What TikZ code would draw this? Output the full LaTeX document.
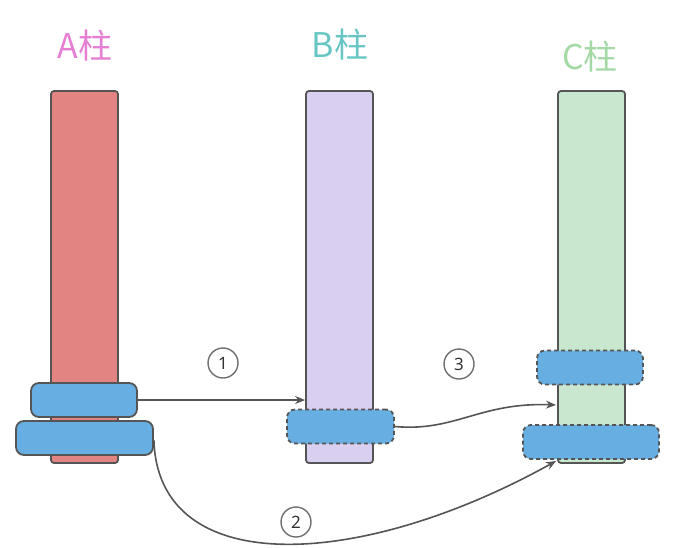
\documentclass[tikz,border=0pt]{standalone}
\usepackage{fontspec}
\newfontfamily\cjk{Noto Sans CJK SC}
\setmainfont{Noto Sans}
\usetikzlibrary{arrows.meta}
\definecolor{edge}{HTML}{555555}
\definecolor{pa}{HTML}{E28482}
\definecolor{pb}{HTML}{D9CFF1}
\definecolor{pc}{HTML}{C9E6CF}
\definecolor{disk}{HTML}{67AEE3}
\definecolor{la}{HTML}{E67FD4}
\definecolor{lb}{HTML}{67C6C3}
\definecolor{lc}{HTML}{A4D8A5}
\tikzset{
  pillar/.style={draw=edge, line width=1.8pt, rounded corners=3pt, minimum width=67pt, minimum height=372pt, inner sep=0pt},
  diskbox/.style={draw=edge, fill=disk, line width=1.8pt, rounded corners=8pt, inner sep=0pt, minimum height=34pt},
  ghost/.style={diskbox, dash pattern=on 4pt off 3pt},
  lbl/.style={font=\cjk\fontsize{34}{38}\selectfont, inner sep=0pt},
  num/.style={draw=edge!85, line width=1.4pt, circle, minimum size=30pt, inner sep=0pt, font=\fontsize{17}{18}\selectfont, text=black!80},
  arr/.style={draw=edge, line width=1.6pt, -{Stealth[length=10pt,width=8pt]}}
}
\begin{document}
\begin{tikzpicture}[x=1pt,y=-1pt]
\useasboundingbox (0,0) rectangle (682,547);
\node[lbl, text=la] (la) at (85,46) {A柱};
\node[lbl, text=lb] (lb) at (340,45) {B柱};
\node[lbl, text=lc] (lc) at (590,57) {C柱};
\node[pillar, fill=pa] (pA) at (84.5,277) {};
\node[pillar, fill=pb] (pB) at (339.5,277) {};
\node[pillar, fill=pc] (pC) at (591.5,277) {};
\node[diskbox, minimum width=106pt] (a1) at (84,400) {};
\node[diskbox, minimum width=137pt] (a2) at (84.5,438) {};
\node[ghost, minimum width=107pt] (b1) at (340.5,426.5) {};
\node[ghost, minimum width=106pt] (c1) at (590,367.5) {};
\node[ghost, minimum width=136pt] (c2) at (591,442) {};
\node[num] (n1) at (223,363) {1};
\node[num] (n3) at (459,364) {3};
\node[num] (n2) at (296,522) {2};
\coordinate (t3) at (556,405);
\coordinate (t2) at (556,461);
\draw[arr] (a1.east) -- (a1.east -| pB.west);
\draw[arr] (b1.east) .. controls (455,432) and (480,402) .. (t3);
\draw[arr] ([yshift=-2pt]a2.east) .. controls (158,580) and (360,570) .. (t2);
\end{tikzpicture}
\end{document}
